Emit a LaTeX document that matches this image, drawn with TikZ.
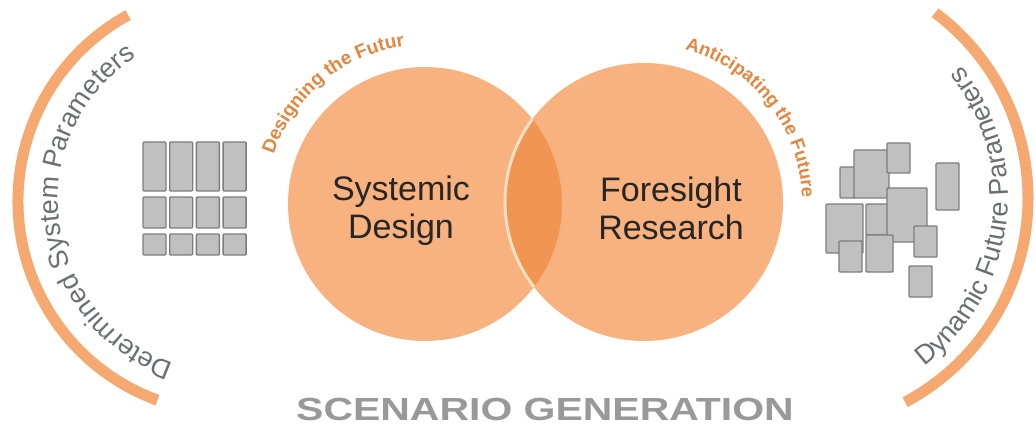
\documentclass[tikz,border=0pt]{standalone}
\usepackage{fontspec}
\setmainfont{Liberation Sans}
\usetikzlibrary{decorations.text}
\definecolor{venn}{RGB}{247,178,128}
\definecolor{lens}{RGB}{241,149,82}
\definecolor{lensedge}{RGB}{252,224,194}
\definecolor{bracket}{RGB}{245,168,112}
\definecolor{arctext}{RGB}{228,134,62}
\definecolor{paramgray}{RGB}{108,110,116}
\definecolor{blockfill}{RGB}{192,192,192}
\definecolor{blockline}{RGB}{125,125,125}
\definecolor{titlegray}{RGB}{153,153,153}
\tikzset{
  block/.style={fill=blockfill, draw=blockline, line width=1.4pt, rounded corners=1pt},
  bracketarc/.style={draw=bracket, line width=11pt},
  circlabel/.style={font=\fontsize{34}{38}\selectfont, text=black!85, align=center},
}

\begin{document}
\begin{tikzpicture}[x=1pt,y=1pt]
  \useasboundingbox (0,0) rectangle (1036,429);
  \def\rL{137}   % left circle radius
  \def\rR{139}   % right circle radius

  % Centres
  \coordinate (lc) at (425,225);
  \coordinate (rc) at (644,227);
  \coordinate (bl) at (230,228);
  \coordinate (br) at (797,231);

  % Venn circles and lens
  \fill[venn] (lc) circle[radius=\rL];
  \fill[venn] (rc) circle[radius=\rR];
  \begin{scope}
    \clip (lc) circle[radius=\rL];
    \fill[lens] (rc) circle[radius=\rR];
    \draw[lensedge, line width=3pt] (rc) circle[radius=\rR];
  \end{scope}

  % Outer brackets
  \draw[bracketarc] (bl) ++(118.7:212) arc[start angle=118.7, end angle=250, radius=212];
  \draw[bracketarc] (br) ++(53.3:231) arc[start angle=53.3, end angle=-62.1, radius=231];

  % Texts along the brackets
  \path[decorate, decoration={text along path, text color=paramgray,
      text={|\fontsize{27}{27}\selectfont|Determined System Parameters}}]
    (bl) ++(251:172) arc[start angle=251, end angle=105, radius=172];
  \path[decorate, decoration={text along path, text color=paramgray,
      text={|\fontsize{27}{27}\selectfont|Dynamic Future Parameters}}]
    (br) ++(-53:211) arc[start angle=-53, end angle=55, radius=211];

  % Texts along the circles
  \path[decorate, decoration={text along path, text color=arctext,
      text={|\fontsize{19}{19}\selectfont\bfseries|Designing the Futur}}]
    (lc) ++(162:159) arc[start angle=162, end angle=80, radius=159];
  \path[decorate, decoration={text along path, text color=arctext,
      text={|\fontsize{18.5}{18.5}\selectfont\bfseries|Anticipating the Future}}]
    (rc) ++(75:158) arc[start angle=75, end angle=-10, radius=158];

  % Circle labels
  \node[circlabel] (sysdes) at (401,218) {Systemic\\Design};
  \node[circlabel] (forres) at (671,221) {Foresight\\Research};

  % Determined blocks (grid)
  \foreach \col in {0,...,3}
    \foreach \ylo/\yhi in {238/287, 201/232, 174/195}
      \draw[block] ({143+26.7*\col},\ylo) rectangle ({166+26.7*\col},\yhi);

  % Dynamic blocks (scattered)
  \foreach \xa/\ya/\xb/\yb in {840/231/855/262, 854/231/889/279, 887/256/910/286,
      936/219/959/266, 826/176/863/225, 866/194/888/225, 887/187/927/241,
      839/157/862/188, 866/157/893/194, 914/172/937/203, 909/132/932/163}
    \draw[block] (\xa,\ya) rectangle (\xb,\yb);

  % Title
  \node[font=\fontsize{32}{32}\selectfont\bfseries, text=titlegray, anchor=base]
    (scen) at (545,9) {\scalebox{1.28}[1]{SCENARIO GENERATION}};
\end{tikzpicture}
\end{document}
